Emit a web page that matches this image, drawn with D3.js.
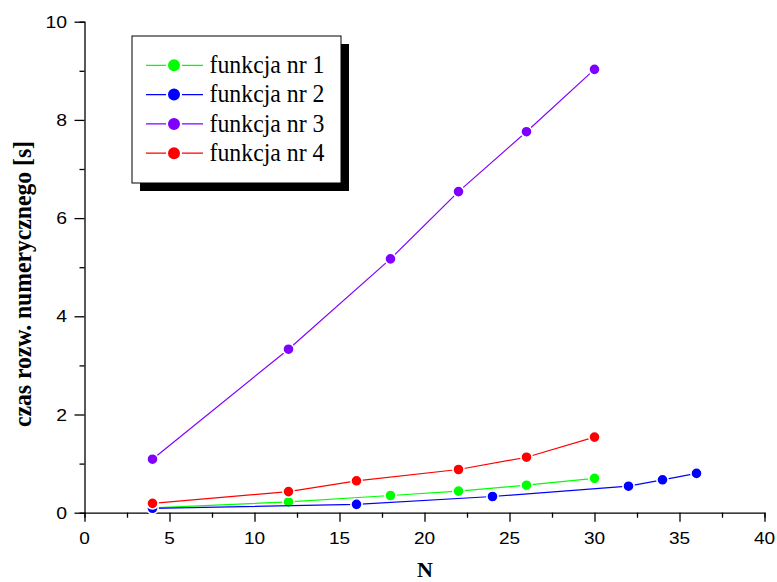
<!DOCTYPE html>
<html><head><meta charset="utf-8">
<script src="https://cdn.jsdelivr.net/npm/d3@7"></script>
<style>body{margin:0;background:#fff}svg{display:block}</style>
</head><body>
<svg id="c" width="777" height="582"></svg>
<script>
const seriesNames = ["funkcja nr 1","funkcja nr 2","funkcja nr 3","funkcja nr 4"];
const seriesColors = ["#00ff00","#0000ff","#8000ff","#ff0000"];
const x1 = [4,12,18,22,26,30], y1 = [0.10,0.22,0.35,0.44,0.56,0.70];
const x2 = [4,16,24,32,34,36], y2 = [0.09,0.17,0.33,0.54,0.67,0.80];
const x3 = [4,12,18,22,26,30], y3 = [1.09,3.33,5.17,6.54,7.76,9.03];
const x4 = [4,12,16,22,26,30], y4 = [0.19,0.43,0.65,0.88,1.13,1.54];
const xTicks = [0,5,10,15,20,25,30,35,40];
const yTicks = [0,2,4,6,8,10];
const xTitle = "N", yTitle = "czas rozw. numerycznego [s]";

const xs = [x1,x2,x3,x4], ys = [y1,y2,y3,y4];
const svg = d3.select("#c");
const X = d3.scaleLinear().domain([0,40]).range([84.5,764.5]);
const Y = d3.scaleLinear().domain([0,10]).range([512.7,21.7]);
const tickFont = "Arial, Liberation Sans, sans-serif";

// axes
const gx = svg.append("g").attr("transform","translate(0,512.7)");
gx.call(d3.axisBottom(X).tickValues(d3.range(0,40.01,2.5)).tickSize(5).tickFormat(""));
gx.call(g=>g.selectAll(".tick").filter(d=>d%5===0).select("line").attr("y2",9));
gx.append("g").selectAll("text").data(xTicks).join("text")
  .attr("x",d=>X(d)).attr("y",544-512.7).attr("text-anchor","middle")
  .attr("font-family",tickFont).attr("font-size",17).attr("fill","#000")
  .attr("textLength",d=>String(d).length*10.6).attr("lengthAdjust","spacingAndGlyphs").text(d=>d);
const gy = svg.append("g").attr("transform","translate(84.5,0)");
gy.call(d3.axisLeft(Y).tickValues(d3.range(0,10.01,1)).tickSize(5).tickFormat(""));
gy.call(g=>g.selectAll(".tick").filter(d=>d%2===0).select("line").attr("x2",-10));
gy.append("g").selectAll("text").data(yTicks).join("text")
  .attr("x",-17.5).attr("y",d=>Y(d)+6).attr("text-anchor","end")
  .attr("font-family",tickFont).attr("font-size",17).attr("fill","#000")
  .attr("textLength",d=>String(d).length*10.8).attr("lengthAdjust","spacingAndGlyphs").text(d=>d);
svg.selectAll(".domain").attr("stroke","#000").attr("stroke-width",1.3);
svg.selectAll(".tick line").attr("stroke","#000").attr("stroke-width",1.3);

// titles
svg.append("text").attr("x",425).attr("y",577).attr("text-anchor","middle")
  .attr("font-family","Liberation Serif, Times New Roman, serif").attr("font-weight","bold").attr("font-size",22).text(xTitle);
svg.append("text").attr("transform","translate(31,284) rotate(-90)").attr("text-anchor","middle")
  .attr("font-family","Liberation Serif, Times New Roman, serif").attr("font-weight","bold").attr("font-size",26)
  .attr("textLength",286).attr("lengthAdjust","spacingAndGlyphs").text(yTitle);

// series
const line = d3.line().x(d=>X(d[0])).y(d=>Y(d[1]));
seriesNames.forEach((n,i)=>{
  const pts = xs[i].map((v,j)=>[v,ys[i][j]]);
  svg.append("path").datum(pts).attr("d",line).attr("fill","none").attr("stroke",seriesColors[i]).attr("stroke-width",1.2);
  svg.append("g").selectAll("circle").data(pts).join("circle")
    .attr("cx",d=>X(d[0])).attr("cy",d=>Y(d[1])).attr("r",5.6)
    .attr("fill",seriesColors[i]).attr("stroke","#fff").attr("stroke-width",1.6);
});

// legend
const lg = svg.append("g");
lg.append("rect").attr("x",140).attr("y",44).attr("width",209).attr("height",147).attr("fill","#000");
lg.append("rect").attr("x",132).attr("y",36).attr("width",209).attr("height",147).attr("fill","#fff").attr("stroke","#000").attr("stroke-width",1);
seriesNames.forEach((n,i)=>{
  const cy = 65.3 + i*29.3;
  lg.append("line").attr("x1",146).attr("x2",203).attr("y1",cy).attr("y2",cy).attr("stroke",seriesColors[i]).attr("stroke-width",1.2);
  lg.append("circle").attr("cx",174).attr("cy",cy).attr("r",7).attr("fill",seriesColors[i]).attr("stroke","#fff").attr("stroke-width",2);
  lg.append("text").attr("x",209.5).attr("y",cy+7.6).attr("font-family","Liberation Serif, Times New Roman, serif")
    .attr("font-size",25).attr("textLength",115).attr("lengthAdjust","spacingAndGlyphs").text(n);
});
</script>
</body></html>
